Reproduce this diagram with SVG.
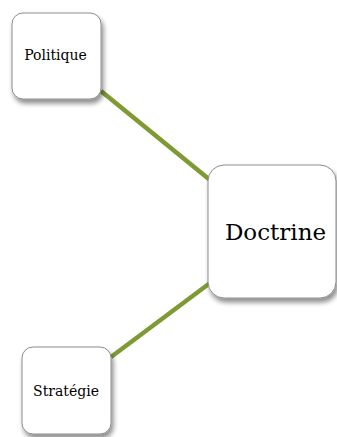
<svg xmlns="http://www.w3.org/2000/svg" width="337" height="437" viewBox="0 0 337 437">
  <style>
    .box { fill: #ffffff; stroke: #8c8c8c; stroke-width: 1; filter: url(#shadow); }
    .label { font-family: "DejaVu Serif", "Liberation Serif", serif; fill: #000000; text-anchor: middle; }
    .small { font-size: 14px; }
    .link { stroke: #7f9a35; stroke-width: 4.5; stroke-linecap: butt; fill: none; }
  </style>
  <defs>
    <filter id="shadow" x="-20%" y="-20%" width="150%" height="150%">
      <feGaussianBlur in="SourceAlpha" stdDeviation="2.5"/>
      <feOffset dx="2" dy="4" result="blur"/>
      <feComponentTransfer><feFuncA type="linear" slope="0.45"/></feComponentTransfer>
      <feMerge>
        <feMergeNode/>
        <feMergeNode in="SourceGraphic"/>
      </feMerge>
    </filter>
  </defs>
  <rect width="337" height="437" fill="#ffffff"/>

  <!-- connectors from Doctrine to the two other nodes -->
  <g id="connectors">
    <line class="link" x1="101" y1="91" x2="210" y2="180"/>
    <line class="link" x1="111" y1="357" x2="210" y2="283"/>
  </g>

  <g id="politique">
    <rect class="box" x="12" y="13" width="89" height="86" rx="11"/>
    <text class="label small" x="55.5" y="59.5">Politique</text>
  </g>

  <g id="doctrine">
    <rect class="box" x="208" y="165" width="128" height="133" rx="16"/>
    <text class="label" x="275.5" y="240" font-size="23">Doctrine</text>
  </g>

  <g id="strategie">
    <rect class="box" x="22" y="347" width="89" height="87" rx="11"/>
    <text class="label small" x="66" y="395.5">Stratégie</text>
  </g>
</svg>
